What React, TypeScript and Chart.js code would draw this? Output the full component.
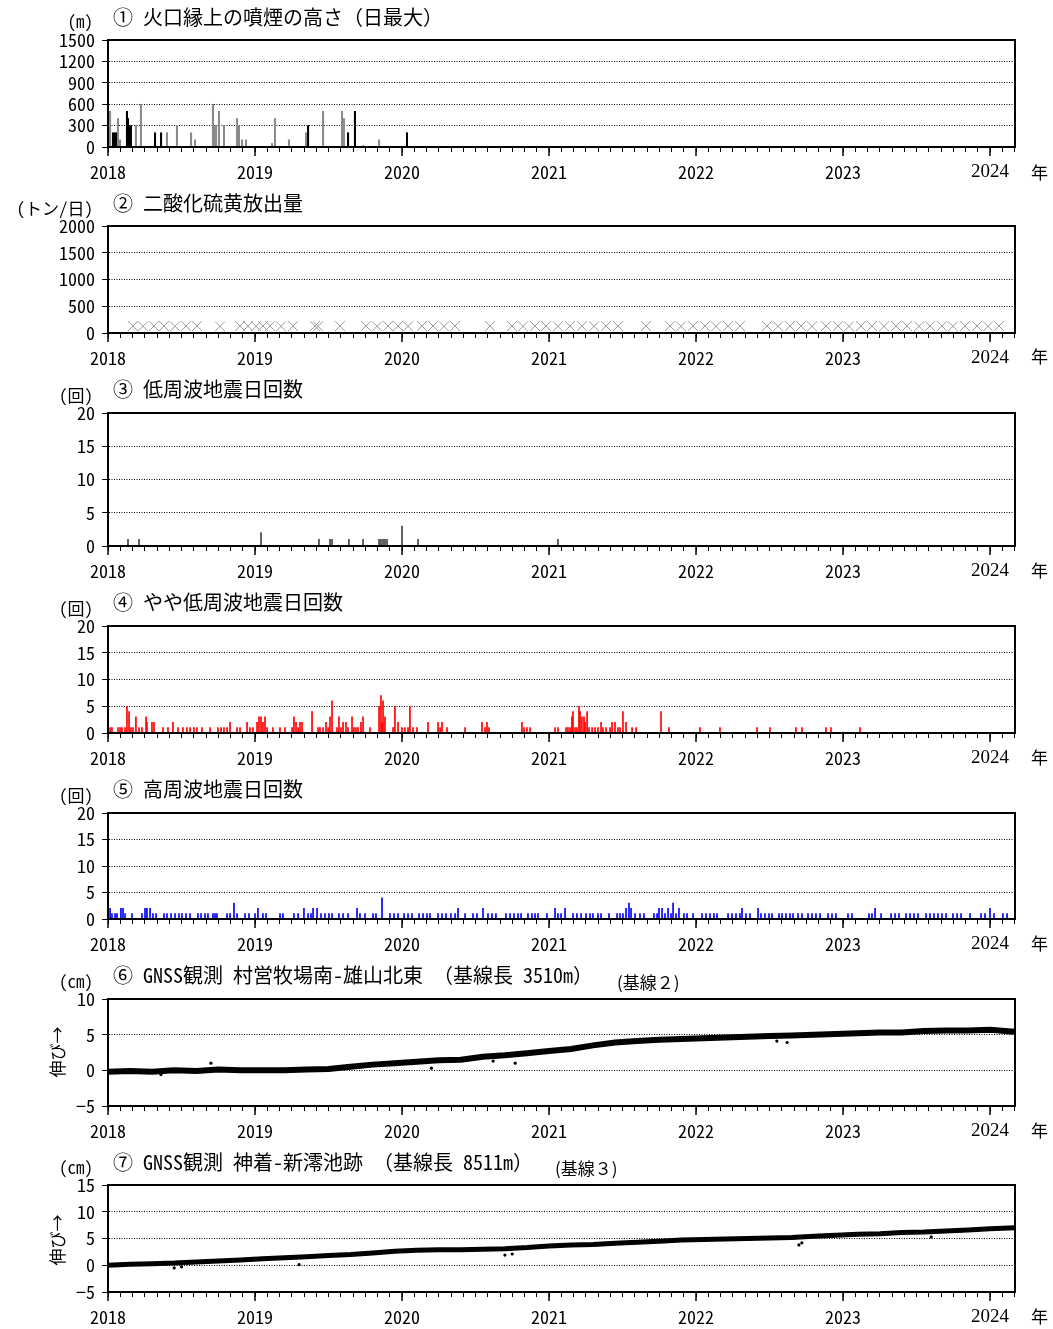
import React, { useEffect, useRef } from "react";
import { Chart, registerables } from "chart.js";
Chart.register(...registerables);

const X_MIN = 2018;
const X_MAX = 2024.17;
const YEAR_LABELS = ["2018", "2019", "2020", "2021", "2022", "2023", "2024"];

const MONO = "'Noto Sans Mono CJK JP', 'DejaVu Sans Mono', monospace";
const SERIF = "'Liberation Serif', 'DejaVu Serif', serif";
const TEXT_FONT = "'Noto Sans Mono CJK JP', 'Noto Sans CJK JP', monospace";

// ① plume height (m), daily max
const plumeDark: [number, number][] = [
  [2018.034, 200], [2018.048, 200], [2018.061, 200], [2018.129, 500], [2018.136, 400],
  [2018.143, 300], [2018.156, 300], [2018.320, 200], [2018.361, 200], [2018.721, 200],
  [2019.361, 300], [2019.633, 200], [2019.680, 500], [2020.034, 200],
];
const plumeGray: [number, number][] = [
  [2018.014, 500], [2018.068, 400], [2018.082, 100], [2018.190, 300], [2018.224, 600],
  [2018.401, 200], [2018.469, 300], [2018.565, 200], [2018.592, 100], [2018.714, 600],
  [2018.728, 300], [2018.735, 300], [2018.755, 500], [2018.789, 300], [2018.878, 400],
  [2018.891, 300], [2018.912, 100], [2018.939, 100], [2019.116, 50], [2019.136, 400],
  [2019.231, 100], [2019.347, 200], [2019.463, 500], [2019.592, 500], [2019.605, 400],
  [2019.735, 20], [2019.844, 100],
];

// ② SO2 emission (t/day)
const so2: [number, number][] = [
  [2018.170, 130], [2018.238, 125], [2018.313, 130], [2018.381, 130], [2018.456, 125],
  [2018.531, 130], [2018.605, 130], [2018.762, 125], [2018.898, 130], [2018.952, 130],
  [2019.007, 125], [2019.054, 130], [2019.102, 130], [2019.177, 125], [2019.259, 130],
  [2019.408, 130], [2019.429, 125], [2019.578, 130], [2019.755, 130], [2019.830, 125],
  [2019.905, 130], [2019.973, 130], [2020.041, 125], [2020.136, 130], [2020.211, 130],
  [2020.286, 125], [2020.361, 130], [2020.599, 130], [2020.748, 130], [2020.823, 125],
  [2020.905, 130], [2020.980, 130], [2021.061, 125], [2021.143, 130], [2021.224, 130],
  [2021.306, 125], [2021.388, 130], [2021.469, 130], [2021.660, 130], [2021.823, 130],
  [2021.898, 125], [2021.980, 130], [2022.061, 130], [2022.136, 125], [2022.218, 130],
  [2022.299, 130], [2022.483, 130], [2022.558, 125], [2022.639, 130], [2022.714, 130],
  [2022.789, 125], [2022.884, 130], [2022.966, 130], [2023.041, 125], [2023.122, 130],
  [2023.197, 130], [2023.279, 125], [2023.361, 130], [2023.435, 130], [2023.517, 125],
  [2023.592, 130], [2023.673, 130], [2023.748, 125], [2023.830, 130], [2023.912, 130],
  [2023.986, 125], [2024.061, 130],
];

// ③ low-frequency earthquakes per day
const lowFreq: [number, number][] = [
  [2018.136, 1], [2018.211, 1], [2019.041, 2], [2019.435, 1], [2019.510, 1], [2019.524, 1],
  [2019.639, 1], [2019.735, 1], [2019.844, 1], [2019.857, 1], [2019.871, 1], [2019.884, 1],
  [2019.898, 1], [2020.000, 3], [2020.109, 1], [2021.061, 1],
];

// ④ slightly low-frequency earthquakes per day
const midFreq: [number, number][] = [
  [2018.014, 1], [2018.027, 1], [2018.068, 1], [2018.082, 1], [2018.095, 1], [2018.116, 1],
  [2018.129, 5], [2018.143, 4], [2018.156, 1], [2018.170, 1], [2018.190, 3], [2018.211, 1],
  [2018.231, 1], [2018.259, 3], [2018.265, 2], [2018.299, 2], [2018.313, 2], [2018.374, 1],
  [2018.408, 1], [2018.442, 2], [2018.476, 1], [2018.510, 1], [2018.537, 1], [2018.558, 1],
  [2018.585, 1], [2018.605, 1], [2018.639, 1], [2018.694, 1], [2018.748, 1], [2018.769, 1],
  [2018.789, 1], [2018.810, 1], [2018.830, 2], [2018.878, 1], [2018.898, 1], [2018.946, 2],
  [2018.966, 1], [2018.986, 1], [2019.014, 2], [2019.027, 3], [2019.041, 3], [2019.054, 2],
  [2019.068, 3], [2019.082, 1], [2019.122, 1], [2019.170, 1], [2019.204, 1], [2019.252, 1],
  [2019.265, 3], [2019.279, 2], [2019.293, 1], [2019.306, 2], [2019.320, 2], [2019.388, 4],
  [2019.429, 1], [2019.442, 1], [2019.463, 1], [2019.483, 2], [2019.497, 1], [2019.510, 3],
  [2019.524, 6], [2019.558, 1], [2019.571, 3], [2019.585, 1], [2019.599, 2], [2019.619, 2],
  [2019.633, 1], [2019.660, 3], [2019.673, 1], [2019.687, 1], [2019.701, 1], [2019.721, 2],
  [2019.735, 3], [2019.782, 1], [2019.844, 5], [2019.857, 7], [2019.864, 2], [2019.871, 6],
  [2019.884, 3], [2019.939, 1], [2019.952, 5], [2019.973, 2], [2020.000, 1], [2020.020, 1],
  [2020.041, 1], [2020.054, 5], [2020.075, 1], [2020.102, 1], [2020.177, 2], [2020.245, 2],
  [2020.259, 1], [2020.272, 2], [2020.306, 1], [2020.429, 1], [2020.544, 2], [2020.565, 1],
  [2020.578, 2], [2020.592, 1], [2020.816, 2], [2020.830, 1], [2020.850, 1], [2020.871, 1],
  [2021.041, 1], [2021.061, 1], [2021.116, 1], [2021.129, 1], [2021.143, 1], [2021.156, 3],
  [2021.163, 4], [2021.177, 1], [2021.190, 1], [2021.204, 5], [2021.211, 4], [2021.224, 3],
  [2021.238, 3], [2021.245, 2], [2021.259, 4], [2021.272, 1], [2021.293, 1], [2021.313, 1],
  [2021.333, 1], [2021.354, 2], [2021.367, 1], [2021.388, 1], [2021.415, 1], [2021.429, 2],
  [2021.449, 2], [2021.469, 1], [2021.483, 1], [2021.503, 4], [2021.524, 2], [2021.565, 1],
  [2021.592, 1], [2021.762, 4], [2021.816, 1], [2022.027, 1], [2022.163, 1], [2022.415, 1],
  [2022.503, 1], [2022.680, 1], [2022.721, 1], [2022.884, 1], [2022.918, 1], [2023.116, 1],
];

// ⑤ high-frequency earthquakes per day
const highFreq: [number, number][] = [
  [2018.014, 2], [2018.027, 1], [2018.048, 1], [2018.061, 1], [2018.088, 2], [2018.102, 2],
  [2018.116, 1], [2018.163, 1], [2018.231, 1], [2018.252, 2], [2018.265, 2], [2018.286, 2],
  [2018.306, 1], [2018.327, 1], [2018.381, 1], [2018.401, 1], [2018.429, 1], [2018.456, 1],
  [2018.483, 1], [2018.503, 1], [2018.531, 1], [2018.558, 1], [2018.612, 1], [2018.633, 1],
  [2018.660, 1], [2018.680, 1], [2018.714, 1], [2018.728, 1], [2018.741, 1], [2018.810, 1],
  [2018.830, 1], [2018.857, 3], [2018.878, 1], [2018.932, 1], [2018.959, 1], [2019.000, 1],
  [2019.020, 2], [2019.054, 1], [2019.075, 1], [2019.170, 1], [2019.190, 1], [2019.265, 1],
  [2019.293, 1], [2019.333, 2], [2019.361, 1], [2019.381, 1], [2019.395, 2], [2019.422, 2],
  [2019.449, 1], [2019.476, 1], [2019.503, 1], [2019.524, 1], [2019.571, 1], [2019.599, 1],
  [2019.633, 1], [2019.694, 2], [2019.714, 1], [2019.748, 1], [2019.803, 1], [2019.823, 1],
  [2019.864, 4], [2019.918, 1], [2019.946, 1], [2019.973, 1], [2020.014, 1], [2020.041, 1],
  [2020.068, 1], [2020.116, 1], [2020.143, 1], [2020.170, 1], [2020.190, 1], [2020.245, 1],
  [2020.272, 1], [2020.299, 1], [2020.333, 1], [2020.361, 1], [2020.381, 2], [2020.429, 1],
  [2020.483, 1], [2020.510, 1], [2020.551, 2], [2020.585, 1], [2020.612, 1], [2020.639, 1],
  [2020.707, 1], [2020.735, 1], [2020.762, 1], [2020.789, 1], [2020.810, 1], [2020.857, 1],
  [2020.884, 1], [2020.905, 1], [2020.925, 1], [2020.986, 1], [2021.041, 2], [2021.061, 1],
  [2021.082, 1], [2021.109, 2], [2021.163, 1], [2021.190, 1], [2021.218, 1], [2021.252, 1],
  [2021.279, 1], [2021.299, 1], [2021.333, 1], [2021.354, 1], [2021.408, 1], [2021.463, 1],
  [2021.483, 1], [2021.503, 1], [2021.524, 2], [2021.544, 3], [2021.558, 2], [2021.585, 1],
  [2021.619, 1], [2021.646, 1], [2021.714, 1], [2021.735, 1], [2021.748, 2], [2021.769, 2],
  [2021.789, 1], [2021.810, 2], [2021.830, 1], [2021.844, 3], [2021.864, 1], [2021.884, 2],
  [2021.918, 1], [2021.939, 1], [2021.980, 1], [2022.041, 1], [2022.068, 1], [2022.095, 1],
  [2022.122, 1], [2022.143, 1], [2022.218, 1], [2022.245, 1], [2022.272, 1], [2022.299, 1],
  [2022.313, 2], [2022.340, 1], [2022.367, 1], [2022.422, 2], [2022.442, 1], [2022.469, 1],
  [2022.497, 1], [2022.517, 1], [2022.565, 1], [2022.585, 1], [2022.612, 1], [2022.639, 1],
  [2022.660, 1], [2022.694, 1], [2022.721, 1], [2022.762, 1], [2022.789, 1], [2022.816, 1],
  [2022.844, 1], [2022.898, 1], [2022.925, 1], [2022.952, 1], [2023.034, 1], [2023.061, 1],
  [2023.177, 1], [2023.197, 1], [2023.218, 2], [2023.259, 1], [2023.327, 1], [2023.354, 1],
  [2023.381, 1], [2023.429, 1], [2023.456, 1], [2023.483, 1], [2023.510, 1], [2023.565, 1],
  [2023.592, 1], [2023.619, 1], [2023.646, 1], [2023.673, 1], [2023.701, 1], [2023.748, 1],
  [2023.776, 1], [2023.803, 1], [2023.864, 1], [2023.939, 1], [2023.966, 1], [2024.000, 2],
  [2024.027, 1], [2024.088, 1], [2024.116, 1],
];

// ⑥ GNSS baseline 2 (cm)
const gnss2: [number, number][] = [
  [2018.00, -0.2], [2018.15, -0.1], [2018.30, -0.2], [2018.45, 0.0], [2018.60, -0.1],
  [2018.75, 0.1], [2018.90, 0.0], [2019.05, 0.0], [2019.20, 0.0], [2019.35, 0.1],
  [2019.50, 0.2], [2019.65, 0.5], [2019.80, 0.8], [2019.95, 1.0], [2020.10, 1.2],
  [2020.25, 1.4], [2020.40, 1.5], [2020.55, 1.9], [2020.70, 2.1], [2020.85, 2.4],
  [2021.00, 2.7], [2021.15, 3.0], [2021.30, 3.5], [2021.45, 3.9], [2021.60, 4.1],
  [2021.75, 4.3], [2021.90, 4.4], [2022.05, 4.5], [2022.20, 4.6], [2022.35, 4.7],
  [2022.50, 4.8], [2022.65, 4.9], [2022.80, 5.0], [2022.95, 5.1], [2023.10, 5.2],
  [2023.25, 5.3], [2023.40, 5.3], [2023.55, 5.5], [2023.70, 5.6], [2023.85, 5.6],
  [2024.00, 5.7], [2024.17, 5.4],
];
const gnss2Outliers: [number, number][] = [
  [2018.70, 1.0], [2018.36, -0.6], [2020.20, 0.3], [2020.62, 1.3], [2020.77, 1.0],
  [2022.55, 4.1], [2022.62, 3.9],
];

// ⑦ GNSS baseline 3 (cm)
const gnss3: [number, number][] = [
  [2018.00, 0.0], [2018.15, 0.2], [2018.30, 0.3], [2018.45, 0.4], [2018.60, 0.6],
  [2018.75, 0.8], [2018.90, 1.0], [2019.05, 1.2], [2019.20, 1.4], [2019.35, 1.6],
  [2019.50, 1.8], [2019.65, 2.0], [2019.80, 2.3], [2019.95, 2.6], [2020.10, 2.8],
  [2020.25, 2.9], [2020.40, 2.9], [2020.55, 3.0], [2020.70, 3.1], [2020.85, 3.3],
  [2021.00, 3.6], [2021.15, 3.8], [2021.30, 3.9], [2021.45, 4.1], [2021.60, 4.3],
  [2021.75, 4.5], [2021.90, 4.7], [2022.05, 4.8], [2022.20, 4.9], [2022.35, 5.0],
  [2022.50, 5.1], [2022.65, 5.2], [2022.80, 5.4], [2022.95, 5.6], [2023.10, 5.8],
  [2023.25, 5.9], [2023.40, 6.1], [2023.55, 6.2], [2023.70, 6.4], [2023.85, 6.6],
  [2024.00, 6.8], [2024.17, 7.0],
];
const gnss3Outliers: [number, number][] = [
  [2018.45, -0.5], [2018.50, -0.3], [2019.30, 0.1], [2020.70, 1.9], [2020.75, 2.1],
  [2022.70, 3.8], [2022.72, 4.2], [2023.60, 5.3],
];

const pts = (arr: [number, number][]) => arr.map(([x, y]) => ({ x, y }));

const framePlugin = {
  id: "frame",
  afterDraw(chart: any) {
    const { ctx, chartArea: a } = chart;
    const xs = chart.scales.x;
    ctx.save();
    ctx.strokeStyle = "#000";
    ctx.lineWidth = 2;
    ctx.strokeRect(a.left, a.top, a.right - a.left, a.bottom - a.top);
    ctx.lineWidth = 1.5;
    YEAR_LABELS.forEach((_, i) => {
      const px = xs.getPixelForValue(X_MIN + i);
      ctx.beginPath();
      ctx.moveTo(px, a.bottom);
      ctx.lineTo(px, a.bottom + 9);
      ctx.stroke();
    });
    ctx.restore();
  },
};

function buildOptions(yMin: number, yMax: number, yStep: number) {
  return {
    responsive: false,
    animation: false,
    events: [],
    layout: { padding: { left: 0, right: 38, top: 12, bottom: 0 } },
    plugins: { legend: { display: false }, tooltip: { enabled: false } },
    scales: {
      x: {
        type: "linear",
        min: X_MIN,
        max: X_MAX,
        offset: false,
        afterBuildTicks: (s: any) => {
          const t = [];
          for (let i = 0; X_MIN + i / 12 <= X_MAX + 1e-6; i++) t.push({ value: X_MIN + i / 12 });
          s.ticks = t;
        },
        afterFit: (s: any) => {
          s.height = 40;
          s.paddingLeft = 0;
          s.paddingRight = 0;
        },
        grid: { display: true, drawOnChartArea: false, offset: false, tickLength: 5, color: "#000", lineWidth: 1 },
        border: { display: true, color: "#000", width: 2 },
        ticks: {
          autoSkip: false,
          maxRotation: 0,
          minRotation: 0,
          padding: 9,
          color: "#000",
          font: (c: any) => (c.index === 72 ? { family: SERIF, size: 19 } : { family: MONO, size: 18 }),
          callback: (_v: any, i: number) => (i % 12 === 0 ? YEAR_LABELS[i / 12] : ""),
        },
      },
      y: {
        type: "linear",
        min: yMin,
        max: yMax,
        afterFit: (s: any) => {
          s.width = 108;
          s.paddingTop = 0;
          s.paddingBottom = 0;
        },
        ticks: {
          stepSize: yStep,
          autoSkip: false,
          padding: 7,
          color: "#000",
          font: { family: MONO, size: 18 },
          callback: (v: any) => String(v).replace("-", "−"),
        },
        grid: { color: "#000", lineWidth: 1, tickLength: 6 },
        border: { display: true, color: "#000", width: 2, dash: [1, 1.5] },
      },
    },
  };
}

type PanelDef = {
  top: number;
  bottom: number;
  yMin: number;
  yMax: number;
  yStep: number;
  type: string;
  datasets: any[];
};

const barDs = (arr: [number, number][], color: string, w = 1) => ({
  type: "bar",
  data: pts(arr),
  backgroundColor: color,
  borderWidth: 0,
  barThickness: w,
  grouped: false,
});

const PANELS: PanelDef[] = [
  {
    top: 40, bottom: 147, yMin: 0, yMax: 1500, yStep: 300, type: "bar",
    datasets: [barDs(plumeGray, "#8a8a8a", 1.4), barDs(plumeDark, "#000", 1.4)],
  },
  {
    top: 226, bottom: 333, yMin: 0, yMax: 2000, yStep: 500, type: "scatter",
    datasets: [
      {
        type: "scatter",
        data: pts(so2),
        pointStyle: "crossRot",
        pointRadius: 7,
        borderColor: "#9a9a9a",
        borderWidth: 1,
      },
    ],
  },
  {
    top: 413, bottom: 546, yMin: 0, yMax: 20, yStep: 5, type: "bar",
    datasets: [barDs(lowFreq, "#444")],
  },
  {
    top: 626, bottom: 733, yMin: 0, yMax: 20, yStep: 5, type: "bar",
    datasets: [barDs(midFreq, "#ff0000")],
  },
  {
    top: 813, bottom: 919, yMin: 0, yMax: 20, yStep: 5, type: "bar",
    datasets: [barDs(highFreq, "#0000ff")],
  },
  {
    top: 999, bottom: 1106, yMin: -5, yMax: 10, yStep: 5, type: "line",
    datasets: [
      { type: "line", data: pts(gnss2), borderColor: "#000", borderWidth: 6, pointRadius: 0, tension: 0 },
      { type: "scatter", data: pts(gnss2Outliers), pointRadius: 1.6, backgroundColor: "#000", borderWidth: 0 },
    ],
  },
  {
    top: 1185, bottom: 1292, yMin: -5, yMax: 15, yStep: 5, type: "line",
    datasets: [
      { type: "line", data: pts(gnss3), borderColor: "#000", borderWidth: 5, pointRadius: 0, tension: 0 },
      { type: "scatter", data: pts(gnss3Outliers), pointRadius: 1.6, backgroundColor: "#000", borderWidth: 0 },
    ],
  },
];

function Panel({ def }: { def: PanelDef }) {
  const ref = useRef<HTMLCanvasElement>(null);
  const h = def.bottom - def.top + 52;
  useEffect(() => {
    const chart = new Chart(ref.current as HTMLCanvasElement, {
      type: def.type as any,
      data: { datasets: def.datasets },
      options: buildOptions(def.yMin, def.yMax, def.yStep) as any,
      plugins: [framePlugin],
    });
    return () => chart.destroy();
  }, []);
  return (
    <canvas
      ref={ref}
      width={1053}
      height={h}
      style={{ position: "absolute", left: 0, top: def.top - 12, width: 1053, height: h }}
    />
  );
}

const TITLES: { text: string; cy: number }[] = [
  { text: "① 火口縁上の噴煙の高さ（日最大）", cy: 17 },
  { text: "② 二酸化硫黄放出量", cy: 203 },
  { text: "③ 低周波地震日回数", cy: 389 },
  { text: "④ やや低周波地震日回数", cy: 602 },
  { text: "⑤ 高周波地震日回数", cy: 789 },
  { text: "⑥ GNSS観測 村営牧場南-雄山北東 （基線長 3510m）", cy: 975 },
  { text: "⑦ GNSS観測 神着-新澪池跡 （基線長 8511m）", cy: 1162 },
];
const UNITS: { text: string; cy: number }[] = [
  { text: "(m)", cy: 21 },
  { text: "(トン/日)", cy: 208 },
  { text: "(回)", cy: 395 },
  { text: "(回)", cy: 608 },
  { text: "(回)", cy: 795 },
  { text: "(cm)", cy: 981 },
  { text: "(cm)", cy: 1167 },
];
const NEN_Y = [172, 356, 570, 757, 943, 1130, 1316];
const BASELINES: { text: string; x: number; cy: number }[] = [
  { text: "(基線２)", x: 617, cy: 982 },
  { text: "(基線３)", x: 555, cy: 1168 },
];
const STRETCH_Y = [1052, 1240];

export default function App() {
  return (
    <div style={{ position: "absolute", left: 0, top: 0, width: 1053, height: 1329, background: "#fff", overflow: "hidden" }}>
      {PANELS.map((p, i) => (
        <Panel key={i} def={p} />
      ))}
      {TITLES.map((t, i) => (
        <div
          key={"t" + i}
          style={{ position: "absolute", left: 113, top: t.cy - 12, fontFamily: TEXT_FONT, fontSize: 20, lineHeight: "24px", whiteSpace: "pre", color: "#000" }}
        >
          {t.text}
        </div>
      ))}
      {UNITS.map((u, i) => (
        <div
          key={"u" + i}
          style={{ position: "absolute", right: 960, top: u.cy - 11, fontFamily: TEXT_FONT, fontSize: 17, lineHeight: "22px", whiteSpace: "pre", color: "#000" }}
        >
          {u.text}
        </div>
      ))}
      {BASELINES.map((b, i) => (
        <div
          key={"b" + i}
          style={{ position: "absolute", left: b.x, top: b.cy - 10, fontFamily: "'Noto Sans CJK JP', sans-serif", fontSize: 17, lineHeight: "20px", whiteSpace: "pre", color: "#000" }}
        >
          {b.text}
        </div>
      ))}
      {NEN_Y.map((y, i) => (
        <div
          key={"n" + i}
          style={{ position: "absolute", left: 1031, top: y - 11, fontFamily: "'Noto Sans CJK JP', sans-serif", fontSize: 17, lineHeight: "22px", color: "#000" }}
        >
          年
        </div>
      ))}
      {STRETCH_Y.map((y, i) => (
        <div
          key={"s" + i}
          style={{
            position: "absolute",
            left: 57 - 40,
            top: y - 11,
            width: 80,
            height: 22,
            textAlign: "center",
            fontFamily: "'Noto Sans CJK JP', sans-serif",
            fontSize: 17,
            lineHeight: "22px",
            transform: "rotate(-90deg)",
            whiteSpace: "nowrap",
            color: "#000",
          }}
        >
          伸び→
        </div>
      ))}
    </div>
  );
}
